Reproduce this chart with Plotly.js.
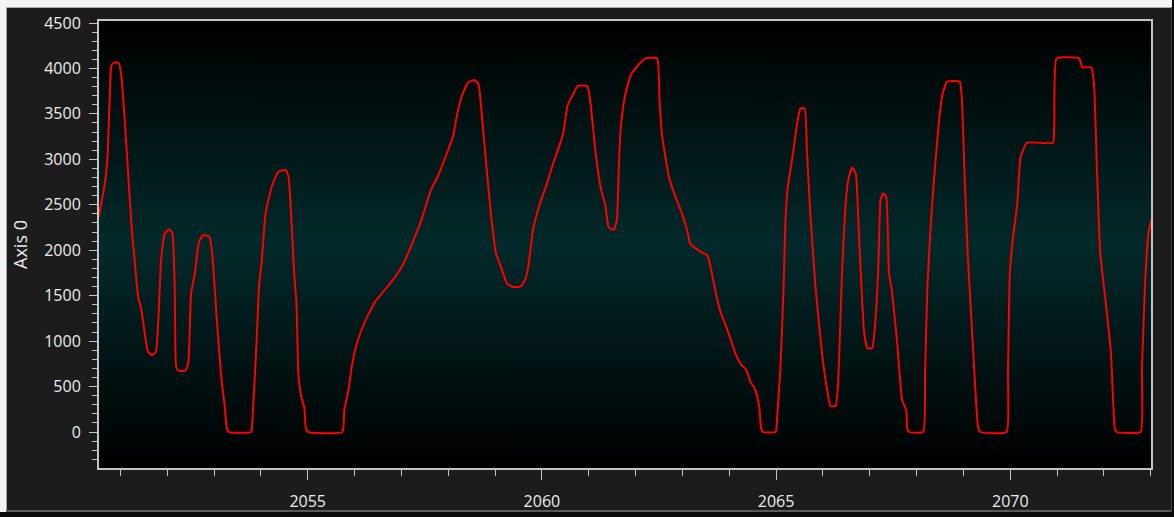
<!DOCTYPE html>
<html><head><meta charset="utf-8">
<script src="https://cdn.plot.ly/plotly-3.0.1.min.js"></script>
<style>
html,body{margin:0;padding:0;background:#0c0c0c;width:1174px;height:517px;overflow:hidden;}
#chart{position:absolute;left:0;top:0;width:1174px;height:517px;}
.f{position:absolute;pointer-events:none;}
</style></head><body>
<div id="chart"></div>
<div class="f" style="left:0;top:0;width:1174px;height:7px;background:#f4f4f4"></div>
<div class="f" style="left:0;top:0;width:6px;height:512px;background:#f4f4f4"></div>
<div class="f" style="left:6px;top:7px;width:1166px;height:1px;background:#a8a8a8"></div>
<div class="f" style="left:6px;top:7px;width:1px;height:504px;background:#a8a8a8"></div>
<div class="f" style="left:6px;top:510px;width:1166px;height:2px;background:#5a5a5a"></div>
<div class="f" style="left:1171px;top:7px;width:1px;height:505px;background:#3c3c3c"></div>
<div class="f" style="left:1172px;top:0;width:2px;height:517px;background:#0c0c0c"></div>
<div class="f" style="left:0;top:512px;width:1174px;height:5px;background:#0c0c0c"></div>
<script>
// ---- data ----
const years = [
2050.54, 2050.67, 2050.73, 2050.78, 2050.81, 2050.88, 2050.97, 2051.03, 2051.13, 2051.24,
2051.31, 2051.38, 2051.45, 2051.52, 2051.59, 2051.68, 2051.76, 2051.81, 2051.87, 2051.95,
2052.04, 2052.11, 2052.16, 2052.19, 2052.24, 2052.39, 2052.45, 2052.51, 2052.59, 2052.68,
2052.77, 2052.90, 2052.96, 2053.06, 2053.16, 2053.23, 2053.27, 2053.32, 2053.79, 2053.82,
2053.91, 2053.96, 2054.02, 2054.10, 2054.23, 2054.37, 2054.53, 2054.59, 2054.66, 2054.71,
2054.76, 2054.80, 2054.86, 2054.93, 2054.96, 2055.01, 2055.74, 2055.78, 2055.87, 2055.94,
2056.05, 2056.22, 2056.44, 2056.79, 2057.01, 2057.29, 2057.44, 2057.63, 2057.79, 2057.93,
2058.11, 2058.18, 2058.29, 2058.43, 2058.57, 2058.65, 2058.72, 2058.81, 2058.91, 2059.02,
2059.15, 2059.25, 2059.36, 2059.54, 2059.64, 2059.71, 2059.81, 2059.96, 2060.11, 2060.24,
2060.39, 2060.46, 2060.55, 2060.68, 2060.76, 2060.97, 2061.03, 2061.14, 2061.25, 2061.36,
2061.42, 2061.53, 2061.60, 2061.64, 2061.67, 2061.74, 2061.82, 2061.92, 2062.06, 2062.21,
2062.46, 2062.51, 2062.56, 2062.71, 2062.85, 2062.99, 2063.10, 2063.17, 2063.28, 2063.42,
2063.53, 2063.60, 2063.70, 2063.81, 2063.95, 2064.13, 2064.26, 2064.36, 2064.45, 2064.56,
2064.64, 2064.68, 2064.72, 2064.99, 2065.02, 2065.09, 2065.16, 2065.20, 2065.25, 2065.34,
2065.45, 2065.52, 2065.61, 2065.66, 2065.73, 2065.84, 2065.98, 2066.09, 2066.16, 2066.27,
2066.32, 2066.41, 2066.48, 2066.54, 2066.62, 2066.70, 2066.77, 2066.88, 2066.95, 2067.05,
2067.11, 2067.18, 2067.23, 2067.28, 2067.35, 2067.41, 2067.47, 2067.58, 2067.69, 2067.78,
2067.80, 2067.84, 2068.14, 2068.18, 2068.23, 2068.30, 2068.37, 2068.48, 2068.55, 2068.65,
2068.92, 2068.97, 2069.02, 2069.09, 2069.15, 2069.25, 2069.31, 2069.36, 2069.92, 2069.95,
2069.99, 2070.06, 2070.15, 2070.22, 2070.36, 2070.91, 2070.94, 2070.99, 2071.47, 2071.54,
2071.73, 2071.79, 2071.85, 2071.92, 2072.04, 2072.15, 2072.23, 2072.27, 2072.78, 2072.81,
2072.88, 2072.95, 2073.01
];
const values = [
2369, 2736, 3066, 3799, 4038, 4067, 4056, 3873, 3139, 2259,
1856, 1489, 1342, 1086, 884, 847, 884, 1232, 1892, 2186,
2230, 2186, 1599, 719, 675, 675, 756, 1526, 1746, 2094,
2167, 2149, 1966, 1232, 572, 279, 40, 0, 0, 132,
1012, 1599, 1892, 2406, 2699, 2864, 2883, 2809, 2259, 1746,
1416, 646, 389, 260, 40, 0, 0, 242, 462, 719,
976, 1214, 1434, 1654, 1819, 2149, 2351, 2663, 2828, 3011,
3268, 3470, 3697, 3847, 3873, 3818, 3470, 2956, 2406, 1966,
1782, 1636, 1599, 1599, 1672, 1819, 2222, 2516, 2736, 2956,
3176, 3304, 3598, 3726, 3807, 3807, 3653, 3103, 2699, 2479,
2259, 2222, 2333, 2883, 3249, 3600, 3800, 3946, 4038, 4111,
4111, 3653, 3286, 2809, 2589, 2406, 2222, 2068, 2021, 1973,
1947, 1819, 1562, 1324, 1141, 866, 737, 690, 554, 462,
279, 40, 0, 0, 150, 682, 1599, 2333, 2699, 2993,
3396, 3561, 3561, 3066, 2406, 1599, 866, 462, 286, 286,
499, 1782, 2479, 2773, 2912, 2846, 2149, 1086, 921, 921,
1159, 1782, 2552, 2626, 2589, 1746, 1560, 1012, 352, 242,
40, 0, 0, 646, 1599, 2259, 2773, 3433, 3708, 3854,
3854, 3616, 2883, 1966, 1416, 499, 59, 0, 0, 646,
1746, 2149, 2516, 3029, 3183, 3183, 3433, 4111, 4111, 4012,
4012, 3799, 2883, 1966, 1416, 866, 40, 0, 0, 682,
1672, 2186, 2333
];
const xTickStart = 2055;
const yAxisTitle = "Axis 0";

const gradSvg = '<svg xmlns="http://www.w3.org/2000/svg" width="10" height="100" preserveAspectRatio="none">' +
  '<defs><linearGradient id="g" x1="0" y1="0" x2="0" y2="1">' +
  '<stop offset="0" stop-color="#000000"/>' +
  '<stop offset="0.5" stop-color="#03292a"/>' +
  '<stop offset="1" stop-color="#000000"/>' +
  '</linearGradient></defs><rect width="10" height="100" fill="url(#g)"/></svg>';
const gradUri = 'data:image/svg+xml;charset=utf-8,' + encodeURIComponent(gradSvg);

const axisColor = '#c4c4c4';
const fontFam = '"Open Sans", "Noto Sans", sans-serif';
const textColor = '#ececec';

const trace = {
  x: years, y: values, type: 'scatter', mode: 'lines',
  line: {color: '#ff0000', width: 2, shape: 'spline', smoothing: 0.4},
  hoverinfo: 'x+y'
};

const layout = {
  width: 1174, height: 517,
  margin: {l: 99, r: 23, t: 21, b: 49, pad: 0},
  paper_bgcolor: '#1c1c1c',
  plot_bgcolor: '#000000',
  showlegend: false,
  font: {family: fontFam, color: textColor, size: 16},
  images: [{
    source: gradUri, xref: 'paper', yref: 'paper', x: 0, y: 1,
    sizex: 1, sizey: 1, sizing: 'stretch', layer: 'below', xanchor: 'left', yanchor: 'top'
  }],
  xaxis: {
    range: [2050.544, 2073.004],
    tick0: xTickStart, dtick: 5, tickmode: 'linear',
    ticks: 'outside', ticklen: 10, tickwidth: 1, tickcolor: axisColor,
    ticklabelstandoff: 8,
    showgrid: false, zeroline: false,
    showline: true, linecolor: axisColor, linewidth: 2, mirror: true,
    tickfont: {family: fontFam, size: 16, color: textColor},
    minor: {dtick: 1, tick0: xTickStart, ticks: 'outside', ticklen: 6, tickwidth: 1, tickcolor: axisColor, showgrid: false}
  },
  yaxis: {
    range: [-396, 4522],
    tick0: 0, dtick: 500, tickmode: 'linear',
    ticks: 'outside', ticklen: 8, tickwidth: 1, tickcolor: axisColor,
    ticklabelstandoff: 5,
    showgrid: false, zeroline: false,
    showline: true, linecolor: axisColor, linewidth: 2, mirror: true,
    tickfont: {family: fontFam, size: 16, color: textColor},
    minor: {dtick: 100, tick0: 0, ticks: 'outside', ticklen: 5, tickwidth: 1, tickcolor: axisColor, showgrid: false},
    title: {text: yAxisTitle, font: {family: fontFam, size: 18, color: textColor}, standoff: 12}
  }
};

Plotly.newPlot('chart', [trace], layout, {displayModeBar: false, staticPlot: true});
</script>
</body></html>
